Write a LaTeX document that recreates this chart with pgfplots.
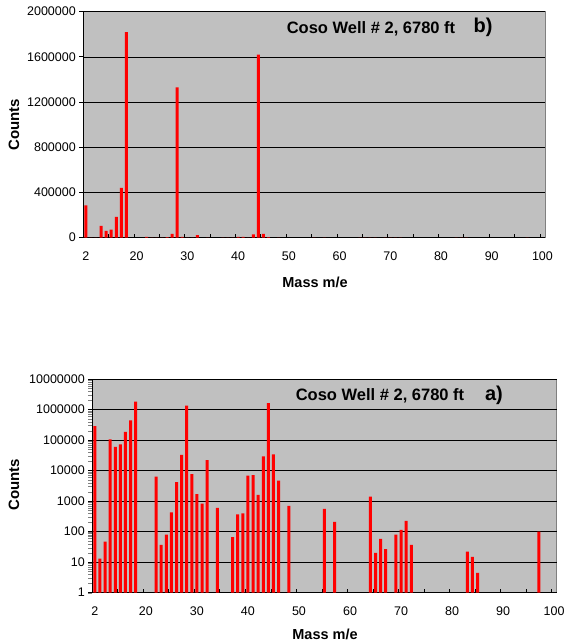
\documentclass[border=0pt]{standalone}
\usepackage{pgfplots}
\pgfplotsset{compat=1.18}
\usepackage{pgfplotstable}
\usepackage{fontspec}
\setmainfont{Liberation Sans}
\definecolor{plotbg}{HTML}{C0C0C0}
\definecolor{bordergray}{HTML}{808080}

% i = category position (0 -> mass 2, i>=1 -> mass i+10)
\pgfplotstableread{
i v
0 285000
1 13
2 47
3 105000
4 60000
5 72000
6 185000
7 440000
8 1820000
12 6300
13 37
14 80
15 430
16 4200
17 33000
18 1330000
19 7600
20 1700
21 820
22 22000
24 600
27 66
28 370
29 400
30 6800
31 7100
32 1600
33 29000
34 1620000
35 34000
36 4700
38 700
45 560
47 210
54 1400
55 20
56 58
57 27
59 80
60 115
61 225
62 37
73 22
74 15
75 4.5
87 100
}\massdata

\pgfplotsset{
  massstyle/.style={
    scale only axis,
    anchor=south west,
    xmin=-0.5, xmax=90.5,
    xtick={0,10,...,90},
    xticklabels={2,20,30,40,50,60,70,80,90,100},
    major x tick style={draw=none},
    minor xtick={4.5,9.5,...,89.5},
    minor x tick style={black, line width=0.8pt, yshift=4pt},
    minor tick length=4pt,
    major tick length=4pt,
    axis x line*=bottom, axis y line*=left,
    axis line style={black, line width=0.8pt, -},
    tick align=outside,
    axis background/.style={fill=plotbg, draw=bordergray},
    ymajorgrids, major grid style={black, line width=0.7pt},
    tick label style={font=\fontsize{12.5}{14}\selectfont},
    xticklabel style={yshift=-7pt},
    major y tick style={black, line width=0.8pt},
  }
}

\begin{document}
\begin{tikzpicture}
\useasboundingbox (0,0) rectangle (565pt,642pt);

% top: linear (b)
\begin{axis}[massstyle,
  at={(83.3pt,404.3pt)}, width=461.7pt, height=226pt,
  ymin=0, ymax=2000000,
  ytick={0,400000,800000,1200000,1600000,2000000},
  yticklabels={0,400000,800000,1200000,1600000,2000000},
  scaled y ticks=false,
]
\addplot[ybar, bar width=3pt, fill=red, draw=none] table[x=i, y=v] {\massdata};
\end{axis}

% bottom: log (a)
\begin{axis}[massstyle,
  at={(92.3pt,49.3pt)}, width=464.4pt, height=213.7pt,
  ymode=log, ymin=1, ymax=10000000,
  ytick={1,10,100,1000,10000,100000,1000000,10000000},
  yticklabels={1,10,100,1000,10000,100000,1000000,10000000},
  log origin=0,
]
\addplot[ybar, bar width=3pt, fill=red, draw=none] table[x=i, y=v] {\massdata};
\end{axis}

\node[font=\fontsize{16.5}{18}\selectfont\bfseries] at (371pt,613pt) {Coso Well \# 2, 6780 ft};
\node[font=\fontsize{20}{22}\selectfont\bfseries] at (483pt,615pt) {b)};
\node[font=\fontsize{16.5}{18}\selectfont\bfseries] at (380pt,246pt) {Coso Well \# 2, 6780 ft};
\node[font=\fontsize{20}{22}\selectfont\bfseries] at (494pt,247pt) {a)};

\node[font=\fontsize{15}{17}\selectfont\bfseries, rotate=90] at (14pt,517pt) {Counts};
\node[font=\fontsize{15}{17}\selectfont\bfseries, rotate=90] at (14pt,157pt) {Counts};
\node[font=\fontsize{14.5}{16}\selectfont\bfseries] at (315pt,360pt) {Mass m/e};
\node[font=\fontsize{14.5}{16}\selectfont\bfseries] at (325pt,8pt) {Mass m/e};
\end{tikzpicture}
\end{document}
